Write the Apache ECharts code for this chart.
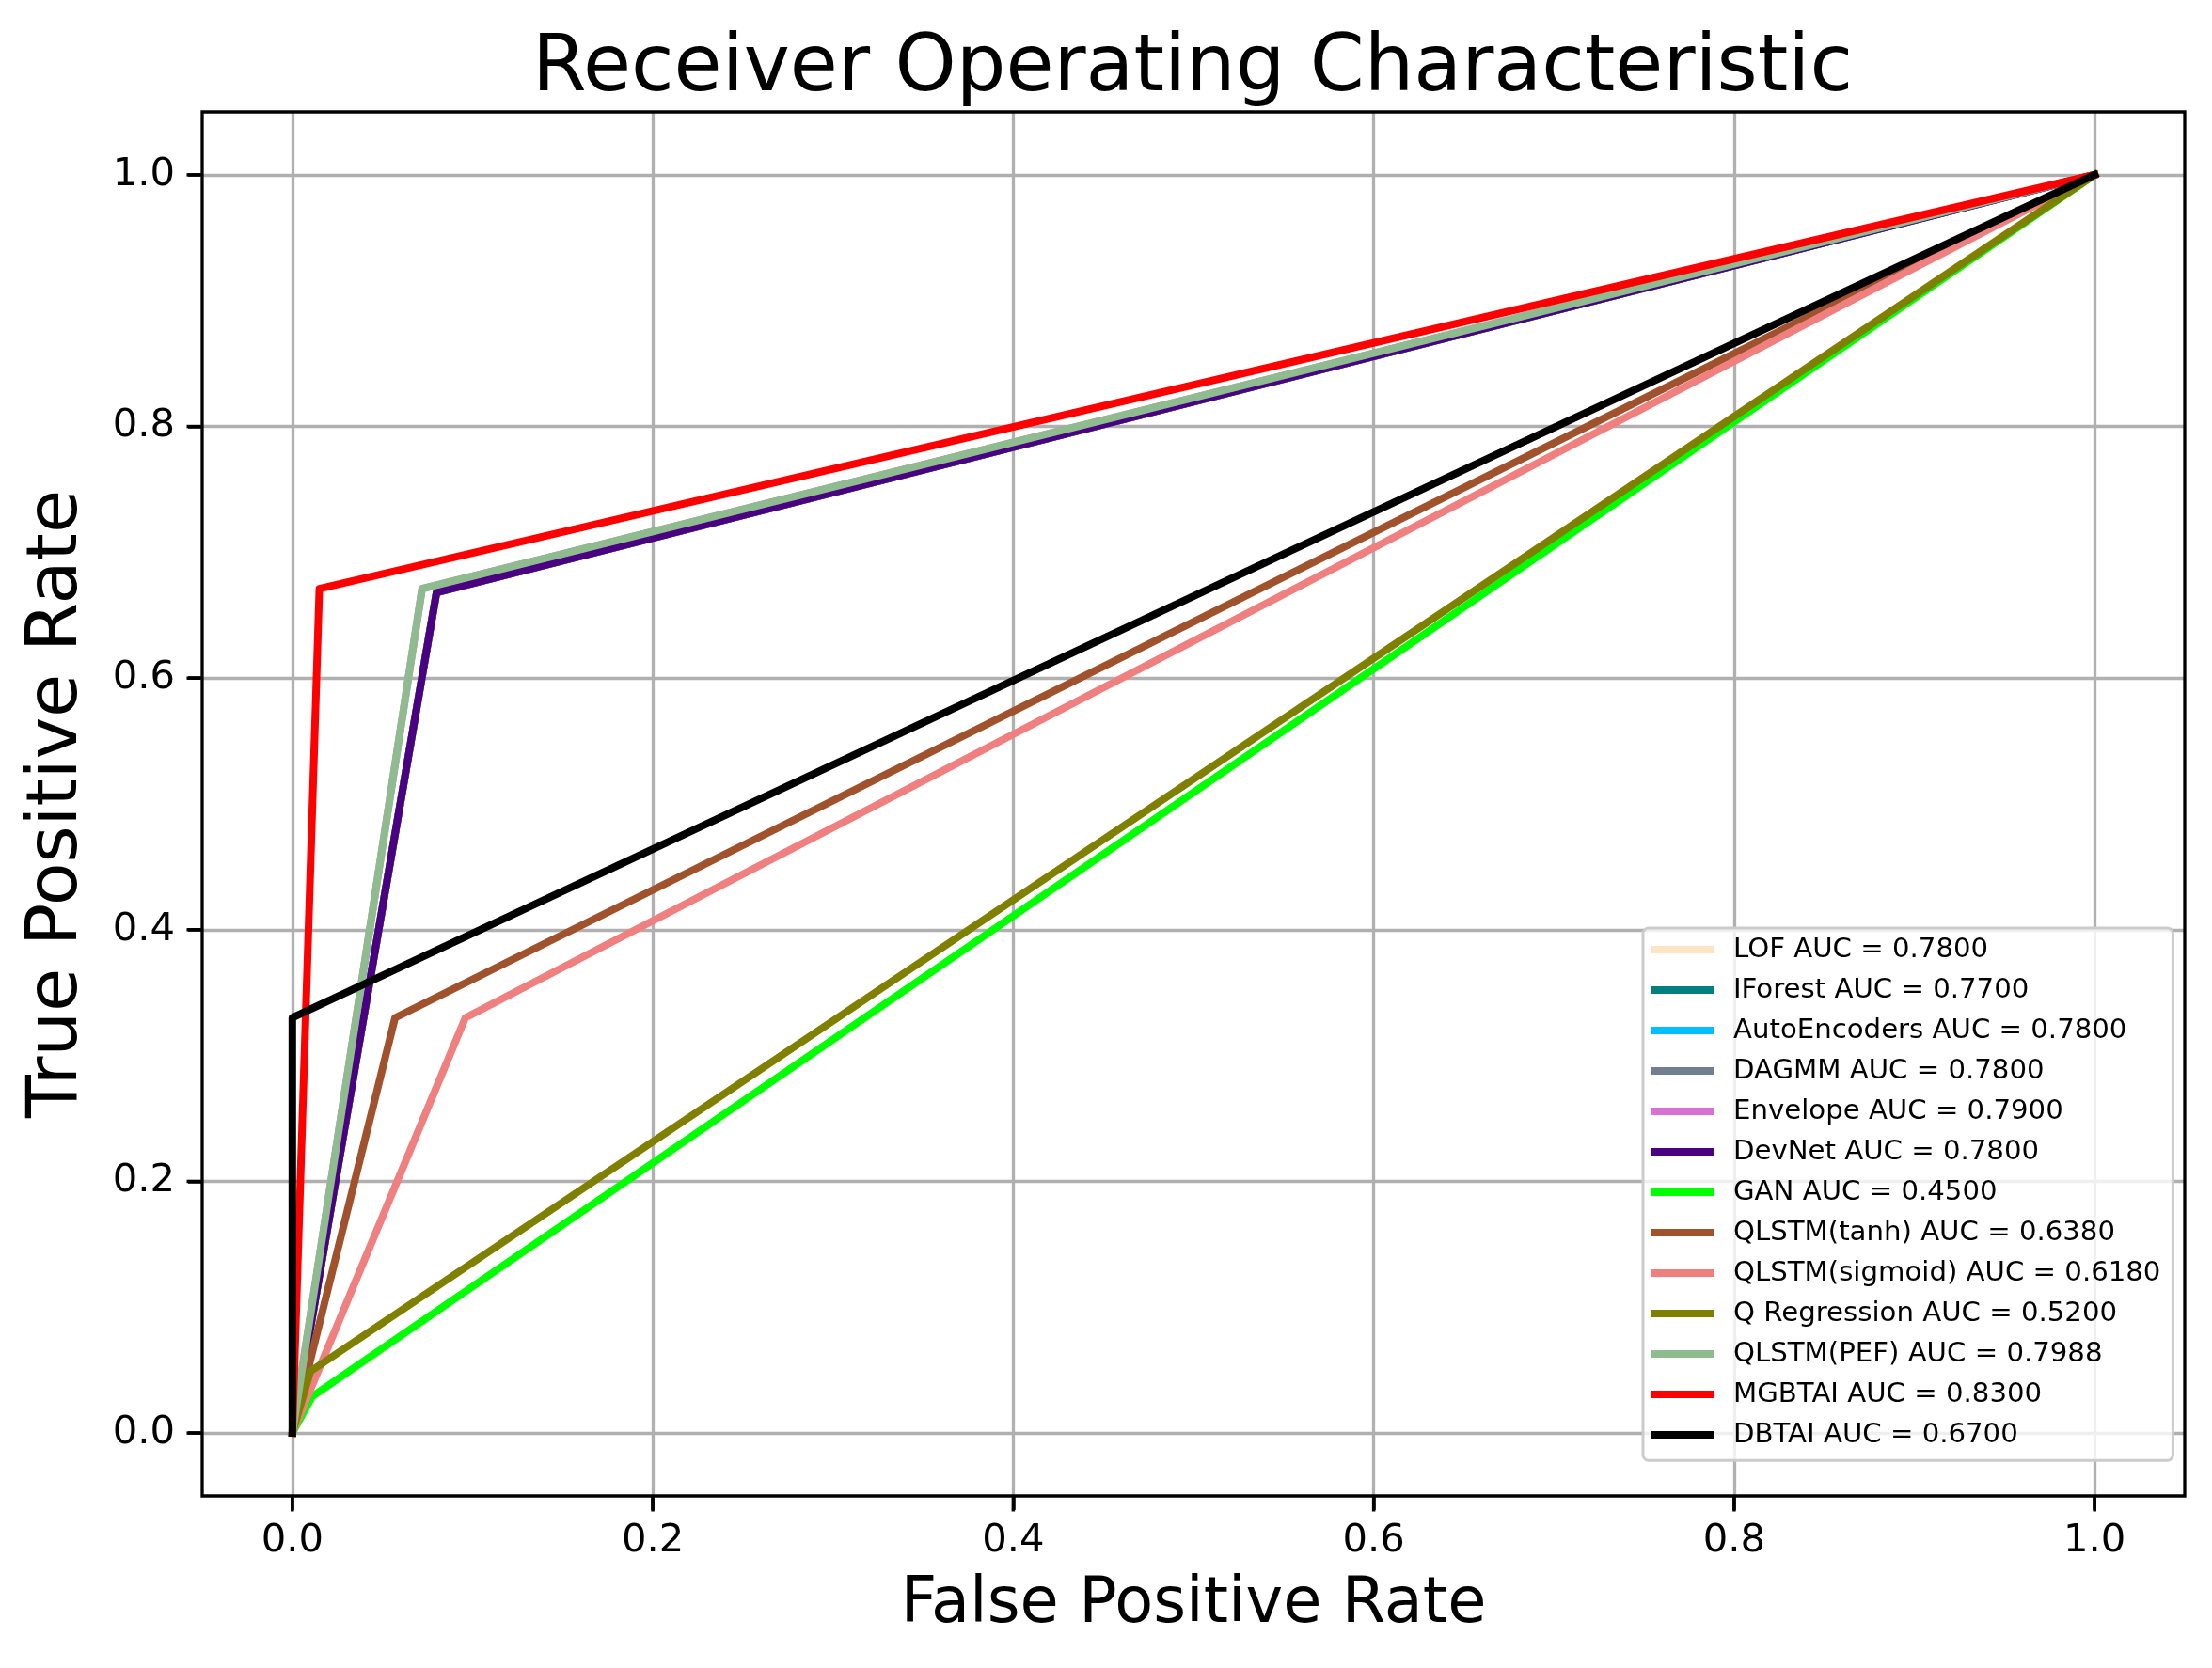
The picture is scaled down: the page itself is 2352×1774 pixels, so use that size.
<!DOCTYPE html>
<html>
<head>
<meta charset="utf-8">
<title>ROC</title>
<script src="https://cdn.jsdelivr.net/npm/echarts@6/dist/echarts.min.js"></script>
<style>
  html, body { margin: 0; padding: 0; background: #fff; }
  #chart { width: 2352px; height: 1774px; }
</style>
</head>
<body>
<div id="chart"></div>
<script>
// model names and their AUC text, in plot order
const models = ['LOF', 'IForest', 'AutoEncoders', 'DAGMM', 'Envelope', 'DevNet', 'GAN',
    'QLSTM(tanh)', 'QLSTM(sigmoid)', 'Q Regression', 'QLSTM(PEF)', 'MGBTAI', 'DBTAI'];
const aucs = ['0.7800', '0.7700', '0.7800', '0.7800', '0.7900', '0.7800', '0.4500',
    '0.6380', '0.6180', '0.5200', '0.7988', '0.8300', '0.6700'];
const colors = ['#ffe4c4', '#008080', '#00bfff', '#708090', '#da70d6', '#4b0082', '#00ff00',
    '#a0522d', '#f08080', '#808000', '#8fbc8f', '#ff0000', '#000000'];

// ROC points [fpr, tpr] (first five are hidden under later curves)
const rocLOF = [[0, 0], [0.08, 0.668], [1, 1]];
const rocIForest = [[0, 0], [0.08, 0.668], [1, 1]];
const rocAutoEncoders = [[0, 0], [0.08, 0.668], [1, 1]];
const rocDAGMM = [[0, 0], [0.08, 0.668], [1, 1]];
const rocEnvelope = [[0, 0], [0.072, 0.671], [1, 1]];
const rocDevNet = [[0, 0], [0.08, 0.668], [1, 1]];
const rocGAN = [[0, 0], [0.011, 0.029], [1, 1]];
const rocTanh = [[0, 0], [0.057, 0.33], [1, 1]];
const rocSigmoid = [[0, 0], [0.096, 0.33], [1, 1]];
const rocQReg = [[0, 0], [0.010, 0.049], [1, 1]];
const rocPEF = [[0, 0], [0.072, 0.671], [1, 1]];
const rocMGBTAI = [[0, 0], [0.015, 0.671], [1, 1]];
const rocDBTAI = [[0, 0], [0, 0.33], [1, 1]];

const curves = [rocLOF, rocIForest, rocAutoEncoders, rocDAGMM, rocEnvelope, rocDevNet, rocGAN,
    rocTanh, rocSigmoid, rocQReg, rocPEF, rocMGBTAI, rocDBTAI];

// tick marks on both axes
const tickValues = [0, 0.2, 0.4, 0.6, 0.8, 1.0];
const tickMin = 0, tickMax = 1, tickStep = 0.2;
const pad = 0.05; // matplotlib default 5% margin

const FONT = 'DejaVu Sans';

// plot frame in pixels
const frame = {left: 215, right: 29, top: 119, bottom: 183};
const plotW = 2352 - frame.left - frame.right;
const plotH = 1774 - frame.top - frame.bottom;
const span = tickMax - tickMin + 2 * pad;
const insetX = plotW * pad / span;
const insetY = plotH * pad / span;

const rocSeries = models.map((m, i) => ({
    name: m + ' AUC = ' + aucs[i],
    type: 'line',
    data: curves[i],
    showSymbol: false,
    symbol: 'none',
    color: colors[i],
    itemStyle: {color: colors[i]},
    lineStyle: {color: colors[i], width: 8, cap: 'square', join: 'round'},
    emphasis: {disabled: true}
}));

// outward tick marks, drawn as line-shaped symbols on the tick axes' scales
const TICK_LEN = 15, TICK_W = 3.5;
const tickSeries = [
    {
        name: 'xticks',
        type: 'scatter', xAxisIndex: 1, yAxisIndex: 1,
        data: tickValues.map(v => [v, tickMin]),
        symbol: 'rect', symbolSize: [TICK_W, TICK_LEN], symbolOffset: [0, TICK_LEN / 2 + 1.5],
        itemStyle: {color: '#000', opacity: 1}, clip: false, silent: true, z: 10, zlevel: 1
    },
    {
        name: 'yticks',
        type: 'scatter', xAxisIndex: 2, yAxisIndex: 2,
        data: tickValues.map(v => [tickMin, v]),
        symbol: 'rect', symbolSize: [TICK_LEN, TICK_W], symbolOffset: [-(TICK_LEN / 2 + 1.5), 0],
        itemStyle: {color: '#000', opacity: 1}, clip: false, silent: true, z: 10, zlevel: 1
    }
];

// axes that carry the labels and grid lines (their grids are inset to the 0..1 range)
const tickAxis = (gridIndex, labelMargin) => ({
    gridIndex: gridIndex,
    type: 'value',
    min: tickMin, max: tickMax, interval: tickStep,
    axisLine: {show: true, onZero: true, lineStyle: {color: 'rgba(0,0,0,0)', width: 1}},
    axisTick: {show: true, inside: false, length: TICK_LEN, lineStyle: {color: '#000', width: TICK_W}},
    axisLabel: {
        formatter: v => v.toFixed(1),
        fontFamily: FONT, fontSize: 41.7, color: '#000',
        margin: labelMargin
    },
    splitLine: {show: true, lineStyle: {color: '#b0b0b0', width: 3.3}}
});
const hiddenAxis = (gridIndex) => ({
    gridIndex: gridIndex, type: 'value', min: tickMin, max: tickMax, show: false
});

const chart = echarts.init(document.getElementById('chart'), null, {renderer: 'canvas'});
chart.setOption({
    animation: false,
    backgroundColor: '#fff',
    title: {
        text: 'Receiver Operating Characteristic',
        left: 1268, top: 33, padding: 0,
        textAlign: 'center',
        textStyle: {fontFamily: FONT, fontSize: 83, fontWeight: 'normal', color: '#000'}
    },
    grid: [
        Object.assign({show: true, borderColor: '#000', borderWidth: 3.3, backgroundColor: 'transparent', z: 3}, frame),
        {left: frame.left + insetX, right: frame.right + insetX, top: frame.top, bottom: frame.bottom},
        {left: frame.left, right: frame.right, top: frame.top + insetY, bottom: frame.bottom + insetY}
    ],
    xAxis: [
        {gridIndex: 0, type: 'value', min: tickMin - pad, max: tickMax + pad, show: false},
        Object.assign(tickAxis(1, 27), {
            name: 'False Positive Rate',
            nameLocation: 'middle',
            nameGap: 83,
            nameTextStyle: {fontFamily: FONT, fontSize: 67, color: '#000'}
        }),
        hiddenAxis(2)
    ],
    yAxis: [
        {gridIndex: 0, type: 'value', min: tickMin - pad, max: tickMax + pad, show: false},
        hiddenAxis(1),
        Object.assign(tickAxis(2, 29), {
            name: 'True Positive Rate',
            nameLocation: 'middle',
            nameGap: 116,
            nameTextStyle: {fontFamily: FONT, fontSize: 75, color: '#000'}
        })
    ],
    legend: {
        orient: 'vertical',
        left: 1747, top: 987,
        padding: [8.5, 13, 12.5, 9],
        itemGap: 13.8,
        itemWidth: 66, itemHeight: 8,
        icon: 'rect',
        selectedMode: false,
        backgroundColor: 'rgba(255,255,255,0.8)',
        borderColor: '#cccccc', borderWidth: 3, borderRadius: 6,
        textStyle: {fontFamily: FONT, fontSize: 29.2, lineHeight: 29.2, color: '#000', padding: [0, 0, 0, 16]},
        data: rocSeries.map(s => s.name)
    },
    series: rocSeries.concat(tickSeries)
});
</script>
</body>
</html>
